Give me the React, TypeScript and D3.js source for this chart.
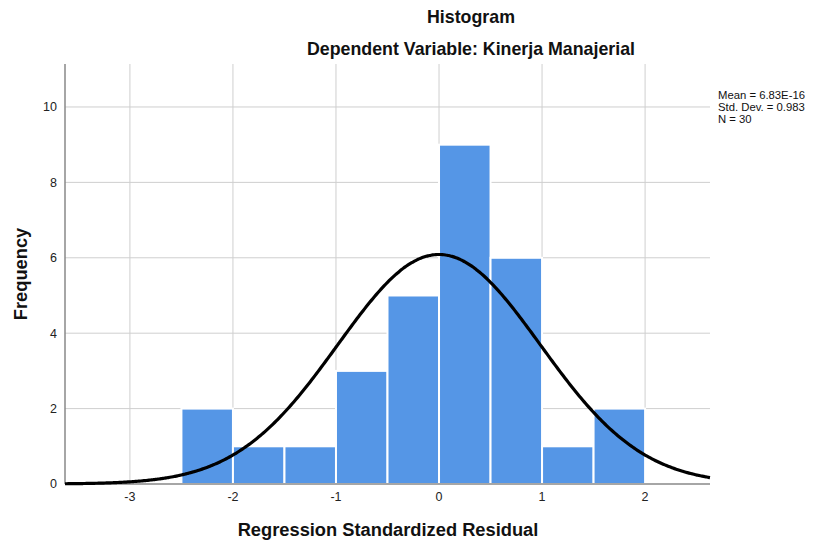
import React from "react";
import * as d3 from "d3";

const binStarts = [-2.5, -2, -1.5, -1, -0.5, 0, 0.5, 1, 1.5];
const binCounts = [2, 1, 1, 3, 5, 9, 6, 1, 2];
const binWidth = 0.5;
const xTicks = [-3, -2, -1, 0, 1, 2];
const yTicks = [0, 2, 4, 6, 8, 10];
const meanVal = 6.83e-16;
const sdVal = 0.983;
const nVal = 30;
const statLines = ["Mean = 6.83E-16", "Std. Dev. = 0.983", "N = 30"];

export default function App() {
  const W = 816, H = 541;
  const left = 65, right = 710, top = 64, bottom = 484;
  const x = d3.scaleLinear().domain([-3.63, 2.63]).range([left, right]);
  const y = d3.scaleLinear().domain([0, 11.14]).range([bottom, top]);
  const font = "'Liberation Sans', Arial, sans-serif";

  const curvePts = d3.range(0, 401).map((i) => {
    const v = -3.63 + (i / 400) * (2.63 + 3.63);
    const pdf = Math.exp(-0.5 * ((v - meanVal) / sdVal) ** 2) / (sdVal * Math.sqrt(2 * Math.PI));
    return [v, nVal * binWidth * pdf] as [number, number];
  });
  const line = d3.line<[number, number]>().x((d) => x(d[0])).y((d) => y(d[1])).curve(d3.curveBasis);

  return (
    <svg width={W} height={H} style={{ position: "absolute", left: 0, top: 0, background: "#fff" }}>
      <rect width={W} height={H} fill="#fff" />
      {xTicks.map((t) => (
        <line key={"gx" + t} x1={x(t)} x2={x(t)} y1={top} y2={bottom} stroke="#cfcfcf" strokeWidth={1} />
      ))}
      {yTicks.filter((t) => t > 0).map((t) => (
        <line key={"gy" + t} x1={left} x2={right} y1={y(t)} y2={y(t)} stroke="#cfcfcf" strokeWidth={1} />
      ))}
      {binStarts.map((s, i) => (
        <rect
          key={"b" + i}
          x={x(s)}
          y={y(binCounts[i])}
          width={x(s + binWidth) - x(s)}
          height={bottom - y(binCounts[i])}
          fill="#5596e6"
          stroke="#ffffff"
          strokeWidth={2}
        />
      ))}
      <line x1={left} x2={left} y1={top} y2={bottom} stroke="#888" strokeWidth={1.5} />
      <line x1={left} x2={right} y1={bottom} y2={bottom} stroke="#888" strokeWidth={1.5} />
      <path d={line(curvePts) || ""} fill="none" stroke="#000" strokeWidth={3.2} />
      {yTicks.map((t) => (
        <text key={"ty" + t} x={left - 8} y={y(t)} dy="0.35em" textAnchor="end" fontFamily={font} fontSize={12.5} fill="#222">
          {t}
        </text>
      ))}
      {xTicks.map((t) => (
        <text key={"tx" + t} x={x(t)} y={bottom + 17} textAnchor="middle" fontFamily={font} fontSize={12.5} fill="#222">
          {t}
        </text>
      ))}
      <text x={471} y={23} textAnchor="middle" fontFamily={font} fontSize={17.8} fontWeight="bold" fill="#111">Histogram</text>
      <text x={471} y={55} textAnchor="middle" fontFamily={font} fontSize={17.8} fontWeight="bold" fill="#111">Dependent Variable: Kinerja Manajerial</text>
      <text x={388} y={536} textAnchor="middle" fontFamily={font} fontSize={18.3} fontWeight="bold" fill="#111">Regression Standardized Residual</text>
      <text transform={`translate(27,${(top + bottom) / 2}) rotate(-90)`} textAnchor="middle" fontFamily={font} fontSize={18.3} fontWeight="bold" fill="#111">Frequency</text>
      {statLines.map((s, i) => (
        <text key={"s" + i} x={718} y={99 + i * 12} fontFamily={font} fontSize={11.3} fill="#111">{s}</text>
      ))}
    </svg>
  );
}
